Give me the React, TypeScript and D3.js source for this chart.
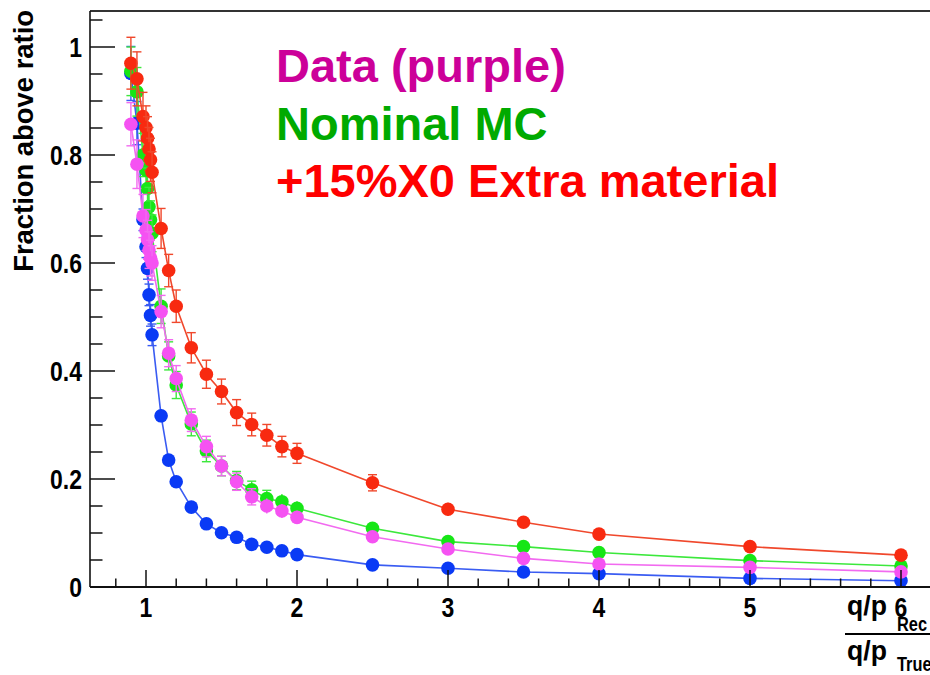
import React from "react";
import * as d3 from "d3";

// ---- data ----
const xValues = [0.9, 0.94, 0.98, 1.0, 1.01, 1.02, 1.03, 1.04, 1.1, 1.15, 1.2, 1.3, 1.4, 1.5, 1.6, 1.7, 1.8, 1.9, 2.0, 2.5, 3, 3.5, 4, 5, 6];

const blueValues = [0.951, 0.859, 0.68, 0.63, 0.59, 0.541, 0.503, 0.467, 0.317, 0.235, 0.195, 0.148, 0.117, 0.1005, 0.092, 0.079, 0.0735, 0.067, 0.06, 0.041, 0.0346, 0.0278, 0.0247, 0.016, 0.0117];
const blueErrors = [0.05, 0.04, 0.02, 0.02, 0.02, 0.02, 0.02, 0.02, 0.012, 0.01, 0.008, 0.006, 0.004, 0.003, 0.003, 0.003, 0.003, 0.003, 0.003, 0.002, 0.002, 0.002, 0.002, 0.002, 0.002];

const greenValues = [0.955, 0.917, 0.8, 0.772, 0.738, 0.704, 0.68, 0.655, 0.52, 0.428, 0.374, 0.302, 0.252, 0.224, 0.197, 0.18, 0.164, 0.158, 0.1457, 0.1087, 0.084, 0.0747, 0.064, 0.0488, 0.039];
const greenErrors = [0.045, 0.045, 0.04, 0.04, 0.038, 0.036, 0.035, 0.034, 0.032, 0.026, 0.025, 0.022, 0.02, 0.018, 0.017, 0.016, 0.015, 0.014, 0.013, 0.006, 0.005, 0.004, 0.004, 0.003, 0.003];

const magentaValues = [0.857, 0.783, 0.687, 0.661, 0.643, 0.624, 0.609, 0.6, 0.51, 0.433, 0.386, 0.309, 0.26, 0.224, 0.195, 0.167, 0.15, 0.1407, 0.129, 0.093, 0.0704, 0.053, 0.0426, 0.0364, 0.028];
const magentaErrors = [0.04, 0.045, 0.04, 0.038, 0.036, 0.034, 0.033, 0.032, 0.03, 0.025, 0.024, 0.021, 0.019, 0.018, 0.016, 0.015, 0.014, 0.013, 0.012, 0.006, 0.005, 0.004, 0.003, 0.003, 0.003];

const redValues = [0.97, 0.941, 0.871, 0.851, 0.831, 0.811, 0.791, 0.768, 0.664, 0.586, 0.52, 0.443, 0.394, 0.362, 0.323, 0.301, 0.281, 0.26, 0.2475, 0.193, 0.144, 0.12, 0.098, 0.0747, 0.059];
const redErrors = [0.048, 0.05, 0.045, 0.04, 0.04, 0.04, 0.04, 0.038, 0.037, 0.03, 0.03, 0.028, 0.026, 0.023, 0.024, 0.021, 0.02, 0.019, 0.0185, 0.015, 0.012, 0.006, 0.005, 0.004, 0.004];

const yTickValues = [0, 0.2, 0.4, 0.6, 0.8, 1];
const xTickValues = [1, 2, 3, 4, 5, 6];

const legendLabels = ["Data (purple)", "Nominal MC", "+15%X0 Extra material"];
const legendColors = ["#cc0099", "#00aa00", "#ff0000"];

const yTitle = "Fraction above ratio";

// ---- layout ----
const W = 930;
const H = 675;
const LEFT = 90;
const TOP = 11;
const BOTTOM = 587;

const FONT = "'Liberation Sans', Arial, Helvetica, sans-serif";

const x = d3.scaleLinear().domain([1, 6]).range([146, 901]);
const y = d3.scaleLinear().domain([0, 1]).range([BOTTOM, 47]);
const xMin = x.invert(LEFT);
const yMax = y.invert(TOP);

type Series = { values: number[]; errors: number[]; marker: string; line: string };
const seriesList: Series[] = [
  { values: blueValues, errors: blueErrors, marker: "#0a3af5", line: "#3a5cf2" },
  { values: greenValues, errors: greenErrors, marker: "#16e616", line: "#3ce83c" },
  { values: magentaValues, errors: magentaErrors, marker: "#f552f2", line: "#f26af0" },
  { values: redValues, errors: redErrors, marker: "#f82a10", line: "#f0482c" },
];

const lineGen = d3
  .line<number>()
  .x((_, i) => x(xValues[i]))
  .y((d) => y(d));

const SQ = 0.82; // horizontal squeeze of axis text

export default function App() {
  const xMinor = d3.range(Math.ceil(xMin * 5) / 5, 6.35, 0.2).filter((v) => Math.abs(v - Math.round(v)) > 1e-6);
  const yMinor = d3.range(0.05, yMax, 0.05).filter((v) => Math.abs(v * 5 - Math.round(v * 5)) > 1e-6);
  const R = 6.8;
  const capW = 4.5;
  return (
    <div style={{ position: "fixed", left: 0, top: 0, width: W, height: H, background: "#fff" }}>
      <svg width={W} height={H} viewBox={`0 0 ${W} ${H}`} style={{ display: "block" }}>
        <rect x={0} y={0} width={W} height={H} fill="#fff" />
        {/* series */}
        {seriesList.map((s, si) => (
          <g key={si}>
            <path d={lineGen(s.values) || ""} fill="none" stroke={s.line} strokeWidth={1.6} />
            {s.values.map((v, i) => {
              const cx = x(xValues[i]);
              const top = y(v + s.errors[i]);
              const bot = y(v - s.errors[i]);
              const cy = y(v);
              return (
                <g key={i}>
                  <line x1={cx} x2={cx} y1={top} y2={bot} stroke={s.line} strokeWidth={1.4} />
                  {cy - top > R + 1 && (
                    <>
                      <line x1={cx - capW} x2={cx + capW} y1={top} y2={top} stroke={s.line} strokeWidth={1.4} />
                      <line x1={cx - capW} x2={cx + capW} y1={bot} y2={bot} stroke={s.line} strokeWidth={1.4} />
                    </>
                  )}
                  <circle cx={cx} cy={cy} r={R} fill={s.marker} />
                </g>
              );
            })}
          </g>
        ))}

        {/* frame */}
        <line x1={LEFT} x2={W + 10} y1={TOP} y2={TOP} stroke="#333" strokeWidth={2} />
        <line x1={LEFT} x2={LEFT} y1={TOP} y2={BOTTOM} stroke="#111" strokeWidth={1.6} />
        <line x1={LEFT} x2={W + 10} y1={BOTTOM} y2={BOTTOM} stroke="#111" strokeWidth={1.8} />

        {/* x ticks */}
        {xTickValues.map((v) => (
          <line key={"xt" + v} x1={x(v)} x2={x(v)} y1={BOTTOM} y2={BOTTOM - 17} stroke="#111" strokeWidth={1.5} />
        ))}
        {xMinor.map((v, i) => (
          <line key={"xm" + i} x1={x(v)} x2={x(v)} y1={BOTTOM} y2={BOTTOM - 8.5} stroke="#111" strokeWidth={1.5} />
        ))}
        {/* y ticks */}
        {yTickValues.map((v) => (
          <line key={"yt" + v} x1={LEFT} x2={LEFT + 25} y1={y(v)} y2={y(v)} stroke="#111" strokeWidth={1.5} />
        ))}
        {yMinor.map((v, i) => (
          <line key={"ym" + i} x1={LEFT} x2={LEFT + 12.5} y1={y(v)} y2={y(v)} stroke="#111" strokeWidth={1.5} />
        ))}

        {/* y tick labels */}
        {yTickValues.map((v) => (
          <text
            key={"yl" + v}
            transform={`translate(82,${y(v) + 10}) scale(${SQ},1)`}
            textAnchor="end"
            fontFamily={FONT}
            fontWeight="bold"
            fontSize={28}
            fill="#000"
          >
            {String(+v.toFixed(1))}
          </text>
        ))}
        {/* x tick labels */}
        {xTickValues.map((v) => (
          <text
            key={"xl" + v}
            transform={`translate(${x(v)},${617}) scale(${SQ},1)`}
            textAnchor="middle"
            fontFamily={FONT}
            fontWeight="bold"
            fontSize={28}
            fill="#000"
          >
            {String(v)}
          </text>
        ))}

        {/* y title */}
        <text
          transform={`translate(33,10) rotate(-90)`}
          textAnchor="end"
          fontFamily={FONT}
          fontWeight="bold"
          fontSize={27.4}
          fill="#000"
        >
          {yTitle}
        </text>

        {/* x title: fraction q/p_Rec over q/p_True */}
        <g fontFamily={FONT} fontWeight="bold" fill="#000">
          <text transform={`translate(847,615) scale(0.95,1)`} fontSize={28}>q/p</text>
          <text transform={`translate(897,631) scale(${SQ},1)`} fontSize={20}>Rec</text>
          <line x1={845} x2={W + 10} y1={634} y2={634} stroke="#000" strokeWidth={2} />
          <text transform={`translate(847,660) scale(0.95,1)`} fontSize={28}>q/p</text>
          <text transform={`translate(897,671) scale(${SQ},1)`} fontSize={20}>True</text>
        </g>

        {/* legend text */}
        {legendLabels.map((t, i) => (
          <text
            key={t}
            x={276}
            y={82 + i * 57.5}
            fontFamily={FONT}
            fontWeight="bold"
            fontSize={47}
            fill={legendColors[i]}
          >
            {t}
          </text>
        ))}
      </svg>
    </div>
  );
}
